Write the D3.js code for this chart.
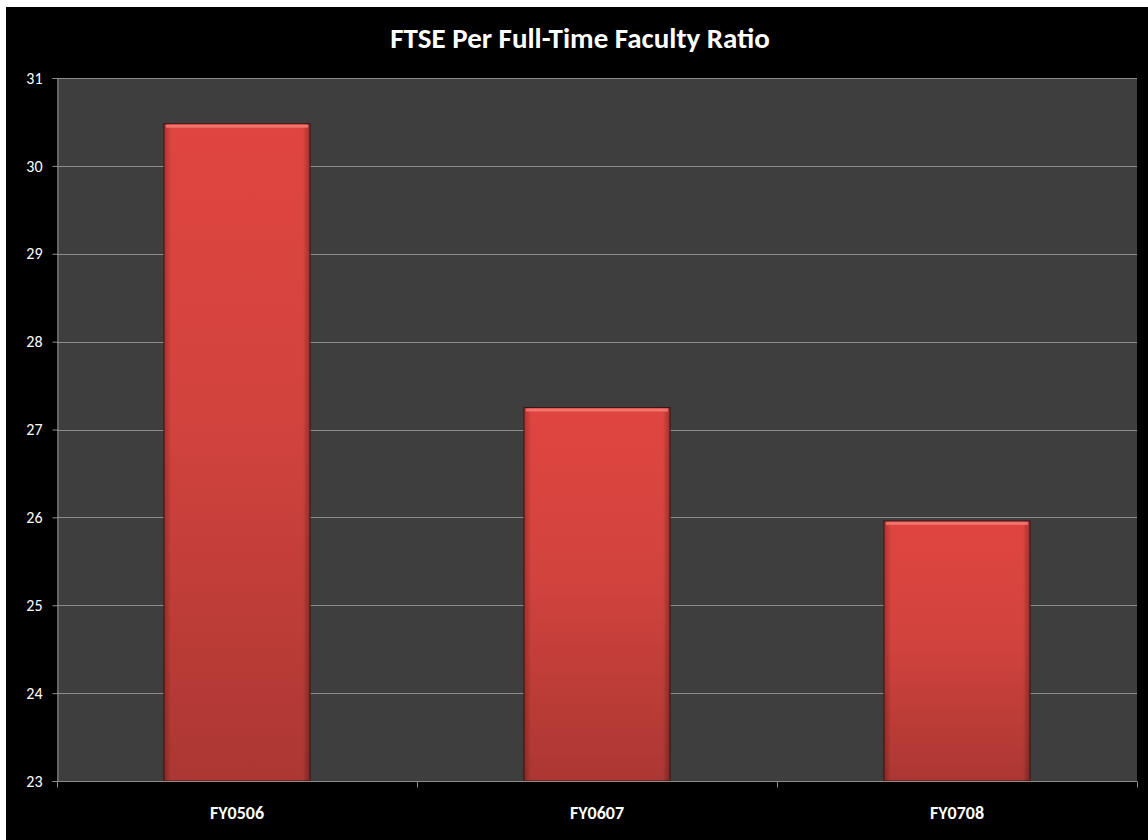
<!DOCTYPE html>
<html>
<head>
<meta charset="utf-8">
<script src="https://cdn.jsdelivr.net/npm/d3@7"></script>
<style>
  html, body { margin: 0; padding: 0; background: #ffffff; }
  svg { display: block; }
  text { font-family: Carlito, Lato, "Open Sans", sans-serif; fill: #ffffff; }
  .ylab { font-size: 16px; }
</style>
</head>
<body>
<svg id="chart" width="1148" height="840"></svg>
<script>
// Data
const categories = ["FY0506", "FY0607", "FY0708"];
const ratios = [30.48, 27.25, 25.96];
const yTicks = [23, 24, 25, 26, 27, 28, 29, 30, 31];
const titleText = "FTSE Per Full-Time Faculty Ratio";

const svg = d3.select("#chart");
const W = 1148, H = 840;
const frame = { x: 6, y: 7 };
const plot = { left: 57, top: 78, right: 1137, bottom: 781 };

// Black chart frame
svg.append("rect").attr("x", frame.x).attr("y", frame.y)
  .attr("width", W - frame.x).attr("height", H - frame.y).attr("fill", "#000000");

// Plot area background
svg.append("rect").attr("x", plot.left).attr("y", plot.top)
  .attr("width", plot.right - plot.left).attr("height", plot.bottom - plot.top)
  .attr("fill", "#3e3e3e");

const x = d3.scaleBand().domain(categories)
  .range([plot.left, plot.right]).paddingInner(0.594).paddingOuter(0.297);
const y = d3.scaleLinear().domain([23, 31]).range([plot.bottom, plot.top]);

// Gradients for the bar fill
const defs = svg.append("defs");
const vg = defs.append("linearGradient").attr("id", "barV")
  .attr("x1", 0).attr("y1", 0).attr("x2", 0).attr("y2", 1);
vg.append("stop").attr("offset", "0%").attr("stop-color", "#e04540");
vg.append("stop").attr("offset", "45%").attr("stop-color", "#d2433e");
vg.append("stop").attr("offset", "100%").attr("stop-color", "#ac3732");
const hg = defs.append("linearGradient").attr("id", "barH")
  .attr("x1", 0).attr("y1", 0).attr("x2", 1).attr("y2", 0);
hg.append("stop").attr("offset", "0%").attr("stop-color", "#000").attr("stop-opacity", 0.25);
hg.append("stop").attr("offset", "5%").attr("stop-color", "#000").attr("stop-opacity", 0.0);
hg.append("stop").attr("offset", "95%").attr("stop-color", "#000").attr("stop-opacity", 0.0);
hg.append("stop").attr("offset", "100%").attr("stop-color", "#000").attr("stop-opacity", 0.3);

// Horizontal gridlines
svg.append("g").selectAll("line").data(yTicks.slice(1)).join("line")
  .attr("x1", plot.left).attr("x2", plot.right)
  .attr("y1", d => Math.round(y(d)) + 0.5).attr("y2", d => Math.round(y(d)) + 0.5)
  .attr("stroke", "#8c8c8c").attr("stroke-width", 1);

// Bars
const bars = svg.append("g").selectAll("g").data(categories).join("g");
bars.append("rect")
  .attr("x", d => x(d)).attr("y", (d, i) => y(ratios[i]))
  .attr("width", x.bandwidth()).attr("height", (d, i) => y(23) - y(ratios[i]))
  .attr("fill", "url(#barV)").attr("stroke", "#3a1614").attr("stroke-width", 1);
bars.append("rect")
  .attr("x", d => x(d)).attr("y", (d, i) => y(ratios[i]))
  .attr("width", x.bandwidth()).attr("height", (d, i) => y(23) - y(ratios[i]))
  .attr("fill", "url(#barH)");
// Top bevel highlight
bars.append("rect")
  .attr("x", d => x(d) + 2).attr("y", (d, i) => y(ratios[i]) + 1)
  .attr("width", x.bandwidth() - 4).attr("height", 3)
  .attr("fill", "#f27b76").attr("opacity", 0.85);

// Y axis
const yAxis = svg.append("g").attr("transform", `translate(${plot.left + 0.5},0)`)
  .call(d3.axisLeft(y).tickValues(yTicks).tickSize(5).tickPadding(10).tickFormat(d3.format("d")));
yAxis.attr("font-size", 16).attr("font-family", null);
yAxis.select(".domain").attr("stroke", "#8c8c8c");
yAxis.selectAll(".tick line").attr("stroke", "#8c8c8c");
yAxis.selectAll(".tick text").attr("class", "ylab").attr("fill", "#ffffff")
  .attr("font-size", 16);

// X axis with ticks at category boundaries
const xAxisG = svg.append("g").attr("transform", `translate(0,${plot.bottom + 0.5})`);
xAxisG.append("line").attr("x1", plot.left).attr("x2", plot.right)
  .attr("stroke", "#8c8c8c");
const step = x.step();
const bounds = [plot.left].concat(categories.map(c => x(c) + x.bandwidth() + step * 0.594 / 2));
xAxisG.selectAll("line.tk").data(bounds).join("line").attr("class", "tk")
  .attr("x1", d => Math.round(d) + 0.5).attr("x2", d => Math.round(d) + 0.5)
  .attr("y1", 0).attr("y2", 6).attr("stroke", "#8c8c8c");
xAxisG.selectAll("text").data(categories).join("text")
  .attr("x", d => x(d) + x.bandwidth() / 2).attr("y", 37)
  .attr("text-anchor", "middle").style("font-size", "18px").style("font-weight", "bold")
  .text(d => d);

// Title
svg.append("text").attr("x", 580).attr("y", 48)
  .attr("text-anchor", "middle").style("font-size", "29px").style("font-weight", "bold")
  .text(titleText);
</script>
</body>
</html>
